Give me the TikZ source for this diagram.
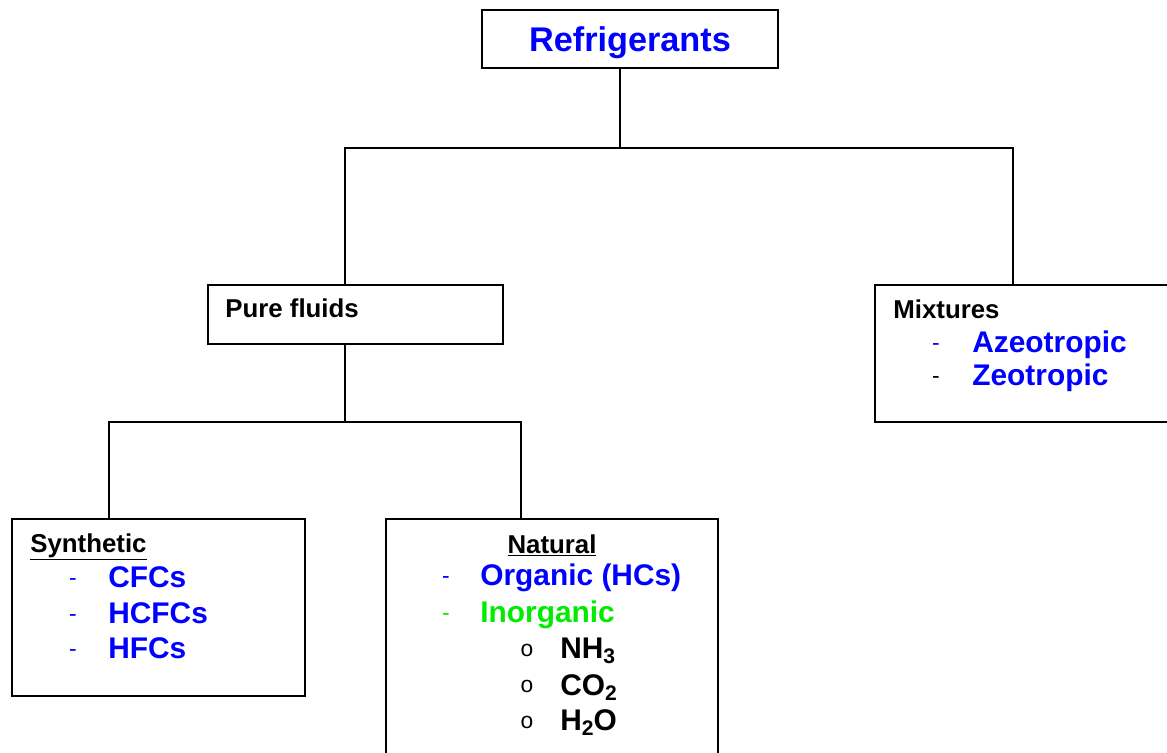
\documentclass[tikz,border=0pt]{standalone}
\usepackage{fontspec}
\setmainfont{Liberation Sans}
\newfontfamily\bulletfont{Liberation Mono}
\usetikzlibrary{positioning}
\definecolor{refblue}{RGB}{0,0,255}
\definecolor{refgreen}{RGB}{0,235,0}
\newcommand{\chemsub}[1]{\raisebox{-0.35ex}{\fontsize{12}{14}\selectfont #1}}
\tikzset{
    %Define style for boxes
    group/.style={
           rectangle,
           draw=black,
           line width=1.1pt,
           inner sep=0pt},
    % Define style for connectors
    link/.style={
           draw=black,
           line width=1.1pt},
    % Define styles for texts
    title/.style={
           anchor=base,
           inner sep=0pt,
           text=refblue,
           font=\fontsize{19.5}{23}\selectfont\bfseries},
    heading/.style={
           anchor=base west,
           inner sep=0pt,
           font=\fontsize{14.7}{18}\selectfont\bfseries},
    item/.style={
           anchor=base west,
           inner sep=0pt,
           font=\fontsize{17}{20}\selectfont\bfseries},
    dashmark/.style={
           anchor=base,
           inner sep=0pt,
           font=\fontsize{13}{16}\selectfont},
    bulletmark/.style={
           anchor=base,
           inner sep=0pt,
           font=\fontsize{13}{16}\selectfont\bulletfont}
}
\begin{document}
\begin{tikzpicture}[x=0.02cm,y=-0.02cm]
\useasboundingbox (0,0) rectangle (1167,752);
% boxes
\node[group, minimum width=5.92cm, minimum height=1.16cm] (refr) at (630,39) {};
\node[group, minimum width=5.9cm, minimum height=1.18cm] (pure) at (355.5,314.5) {};
\node[group, minimum width=6cm, minimum height=2.74cm] (mix) at (1025,353.5) {};
\node[group, minimum width=5.86cm, minimum height=3.54cm] (syn) at (158.5,607.5) {};
\node[group, minimum width=6.64cm, minimum height=4.82cm] (nat) at (552,639.5) {};
% junctions
\coordinate (t1) at (620,148);
\coordinate (l1) at (345,148);
\coordinate (r1) at (1013,148);
\coordinate (t2) at (345,422);
\coordinate (l2) at (109,422);
\coordinate (r2) at (521,422);
\draw[link] (t1 |- refr.south) -- (t1);
\draw[link] (l1 |- pure.north) -- (l1) -- (r1) -- (r1 |- mix.north);
\draw[link] (t2 |- pure.south) -- (t2);
\draw[link] (l2 |- syn.north) -- (l2) -- (r2) -- (r2 |- nat.north);
% top
\node[title] (refrtext) at (630,51) {Refrigerants};
\node[heading] (puretext) at (225,317) {Pure fluids};
% mixtures
\node[heading] (mixtext) at (893,318) {Mixtures};
\node[dashmark, text=refblue] (mixd1) at (936,350) {-};
\node[item, text=refblue] (azeo) at (972,352) {Azeotropic};
\node[dashmark] (mixd2) at (936,383) {-};
\node[item, text=refblue] (zeo) at (972,385) {Zeotropic};
% synthetic
\node[heading] (syntext) at (30,552) {\underline{Synthetic}};
\node[dashmark, text=refblue] (synd1) at (73,585) {-};
\node[item, text=refblue] (cfc) at (108,587) {CFCs};
\node[dashmark, text=refblue] (synd2) at (73,621) {-};
\node[item, text=refblue] (hcfc) at (108,623) {HCFCs};
\node[dashmark, text=refblue] (synd3) at (73,656) {-};
\node[item, text=refblue] (hfc) at (108,658) {HFCs};
% natural
\node[heading, anchor=base] (nattext) at (552,553) {\underline{Natural}};
\node[dashmark, text=refblue] (natd1) at (446,583) {-};
\node[item, text=refblue] (organic) at (480,585) {Organic (HCs)};
\node[dashmark, text=refgreen] (natd2) at (446,620) {-};
\node[item, text=refgreen] (inorganic) at (480,622) {Inorganic};
\node[bulletmark] (natb1) at (527,656) {o};
\node[item] (nh3) at (560,658) {NH\chemsub{3}};
\node[bulletmark] (natb2) at (527,692) {o};
\node[item] (co2) at (560,695) {CO\chemsub{2}};
\node[bulletmark] (natb3) at (527,728) {o};
\node[item] (h2o) at (560,730) {H\chemsub{2}O};
\end{tikzpicture}
\end{document}
